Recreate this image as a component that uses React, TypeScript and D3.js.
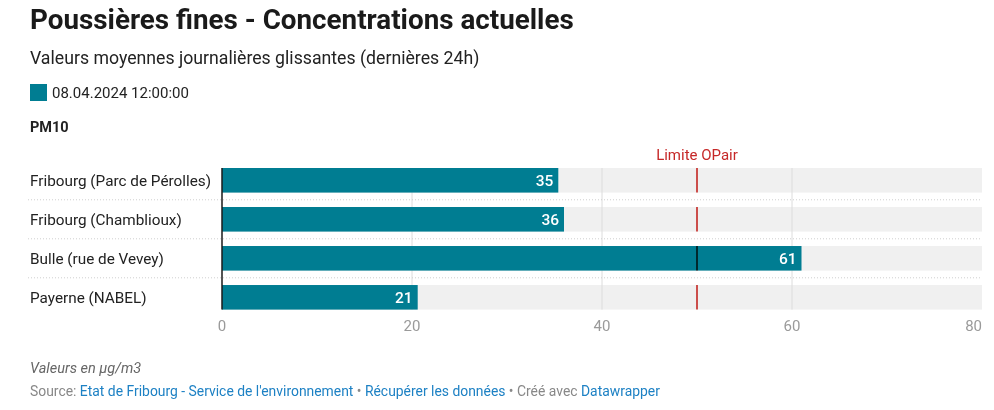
import React, { useEffect, useRef } from 'react';
import * as d3 from 'd3';

const stations = ['Fribourg (Parc de Pérolles)', 'Fribourg (Chamblioux)', 'Bulle (rue de Vevey)', 'Payerne (NABEL)'];
const values = [35.4, 36, 61, 20.6];
const xTicks = [0, 20, 40, 60, 80];
const limitValue = 50;
const limitLabel = 'Limite OPair';
const seriesLabel = '08.04.2024 12:00:00';

const W = 994;
const H = 410;
const FONT = 'Roboto, "Noto Sans", sans-serif';
const TEAL = '#007d92';

export default function App() {
  const svgRef = useRef<SVGSVGElement>(null);

  useEffect(() => {
    if (!svgRef.current) return;
    const svg = d3.select(svgRef.current);
    svg.selectAll('*').remove();
    svg.attr('width', W).attr('height', H).style('font-family', FONT);

    svg.append('rect').attr('width', W).attr('height', H).attr('fill', '#fff');

    // header
    svg.append('text').attr('x', 30).attr('y', 29).attr('font-size', 27.8).attr('font-weight', 700).attr('fill', '#1a1a1a').text('Poussières fines - Concentrations actuelles');
    svg.append('text').attr('x', 30).attr('y', 64).attr('font-size', 17.7).attr('fill', '#222').text('Valeurs moyennes journalières glissantes (dernières 24h)');
    svg.append('rect').attr('x', 30).attr('y', 84).attr('width', 17).attr('height', 17).attr('fill', TEAL);
    svg.append('text').attr('x', 52).attr('y', 98).attr('font-size', 15).attr('fill', '#222').text(seriesLabel);
    svg.append('text').attr('x', 30).attr('y', 132).attr('font-size', 14.5).attr('font-weight', 700).attr('fill', '#222').text('PM10');

    const x = d3.scaleLinear().domain([0, 80]).range([222, 982]);
    const y = d3.scaleBand<string>().domain(stations).range([148.5, 329.1]).paddingInner(0.37).paddingOuter(0.5);
    const bh = y.bandwidth();
    const step = y.step();
    const top = y(stations[0])!;
    const bottom = y(stations[stations.length - 1])! + bh;

    const g = svg.append('g');

    // background tracks
    g.selectAll('.track')
      .data(stations)
      .enter()
      .append('rect')
      .attr('x', x(0))
      .attr('y', (d) => y(d)!)
      .attr('width', x(80) - x(0))
      .attr('height', bh)
      .attr('fill', '#f0f0f0');

    // grid
    g.selectAll('.grid')
      .data(xTicks.filter((t) => t > 0 && t < 80))
      .enter()
      .append('line')
      .attr('x1', (d) => x(d))
      .attr('x2', (d) => x(d))
      .attr('y1', top)
      .attr('y2', bottom)
      .attr('stroke', '#dcdcdc')
      .attr('stroke-width', 1);

    // separators
    g.selectAll('.sep')
      .data(stations.slice(1))
      .enter()
      .append('line')
      .attr('x1', 28)
      .attr('x2', x(80))
      .attr('y1', (d) => y(d)! - (step - bh) / 2)
      .attr('y2', (d) => y(d)! - (step - bh) / 2)
      .attr('stroke', '#cfcfcf')
      .attr('stroke-dasharray', '1,2')
      .attr('stroke-width', 1);

    // bars
    g.selectAll('.bar')
      .data(values)
      .enter()
      .append('rect')
      .attr('x', x(0))
      .attr('y', (_, i) => y(stations[i])!)
      .attr('width', (d) => x(d) - x(0))
      .attr('height', bh)
      .attr('fill', TEAL);

    // baseline
    g.append('line')
      .attr('x1', x(0))
      .attr('x2', x(0))
      .attr('y1', top)
      .attr('y2', bottom)
      .attr('stroke', '#1a1a1a')
      .attr('stroke-width', 1.5);

    // limit line per row (multiply so it darkens over bars)
    g.selectAll('.limit')
      .data(stations)
      .enter()
      .append('line')
      .attr('x1', x(limitValue))
      .attr('x2', x(limitValue))
      .attr('y1', (d) => y(d)!)
      .attr('y2', (d) => y(d)! + bh)
      .attr('stroke', '#d9534f')
      .attr('stroke-width', 2)
      .style('mix-blend-mode', 'multiply');
    g.append('text')
      .attr('x', x(limitValue))
      .attr('y', 160)
      .attr('text-anchor', 'middle')
      .attr('font-size', 15)
      .attr('fill', '#c62828')
      .text(limitLabel);

    // station labels
    g.selectAll('.label')
      .data(stations)
      .enter()
      .append('text')
      .attr('x', 30)
      .attr('y', (d) => y(d)! + bh / 2)
      .attr('dy', '0.35em')
      .attr('font-size', 15.3)
      .attr('fill', '#222')
      .text((d) => d);

    // value labels
    g.selectAll('.val')
      .data(values)
      .enter()
      .append('text')
      .attr('x', (d) => x(d) - 5)
      .attr('y', (_, i) => y(stations[i])! + bh / 2)
      .attr('dy', '0.35em')
      .attr('text-anchor', 'end')
      .attr('font-size', 15.5)
      .attr('font-weight', 500)
      .attr('fill', '#fff')
      .text((d) => d3.format('.0f')(d));

    // x axis labels
    g.selectAll('.tick')
      .data(xTicks)
      .enter()
      .append('text')
      .attr('x', (d) => x(d))
      .attr('y', 326)
      .attr('dy', '0.35em')
      .attr('text-anchor', (d) => (d === 80 ? 'end' : 'middle'))
      .attr('font-size', 15)
      .attr('fill', '#9a9a9a')
      .text((d) => d);

    // notes
    svg.append('text').attr('x', 30).attr('y', 373).attr('font-size', 14.5).attr('font-style', 'italic').attr('fill', '#666').text('Valeurs en µg/m3');
    const src = svg.append('text').attr('x', 30).attr('y', 396).attr('font-size', 13.9).attr('fill', '#888');
    src.append('tspan').text('Source: ');
    src.append('tspan').attr('fill', '#1d81c4').text('Etat de Fribourg - Service de l\'environnement');
    src.append('tspan').text(' • ');
    src.append('tspan').attr('fill', '#1d81c4').text('Récupérer les données');
    src.append('tspan').text(' • Créé avec ');
    src.append('tspan').attr('fill', '#1d81c4').text('Datawrapper');
  }, []);

  return <svg ref={svgRef} style={{ display: 'block', margin: -8 }} />;
}
